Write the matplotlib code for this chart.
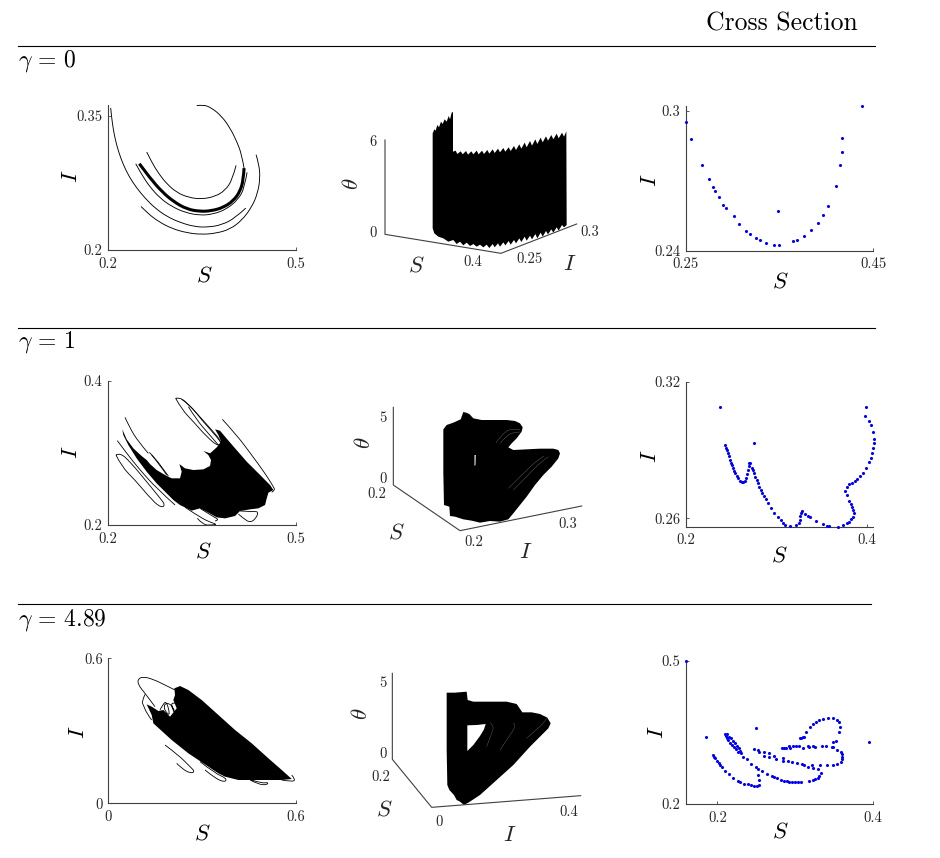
import matplotlib
matplotlib.use('Agg')
import matplotlib.pyplot as plt
from matplotlib.path import Path
from matplotlib.patches import PathPatch

plt.rcParams['font.family'] = ['cmr10', 'DejaVu Serif']
plt.rcParams['mathtext.fontset'] = 'cm'
plt.rcParams['axes.formatter.use_mathtext'] = True
plt.rcParams['axes.unicode_minus'] = False

W, H = 940, 858
AXIS_COLOR = '#404040'
TICK_SIZE = 10.5
LABEL_SIZE = 16.5

# ---- gamma = 0, S-I phase portrait
r1_big_s = [.2038, .2054, .2081, .2118, .2171, .2240, .2331, .2454, .2587, .2747, .2934, .3147, .3387, .3600, .3813, .4026, .4197]
r1_big_i = [.3587, .3475, .3344, .3214, .3083, .2953, .2822, .2692, .2580, .2468, .2375, .2307, .2259, .2255, .2281, .2356, .2468]
r1_low_s = [.2523, .2640, .2800, .3013, .3253, .3493, .3733, .3946, .4133, .4293, .4388, .4426, .4410, .4362]
r1_low_i = [.2486, .2404, .2319, .2240, .2192, .2173, .2188, .2233, .2330, .2479, .2636, .2803, .2953, .3065]
r1_top_s = [.2614, .2694, .2800, .2933, .3093, .3280, .3493, .3706, .3866, .3984, .4042]
r1_top_i = [.3094, .2982, .2859, .2740, .2643, .2587, .2568, .2598, .2665, .2785, .2945]
r1_hook_s = [.3413, .3520, .3653, .3813, .3946, .4053, .4133, .4170]
r1_hook_i = [.3613, .3624, .3587, .3494, .3363, .3214, .3065, .2915]
r1_thick_s = [.4170, .4159, .4106, .3999, .3839, .3653, .3466, .3253, .3040, .2854, .2667, .2496]
r1_thick_i = [.2915, .2785, .2654, .2550, .2475, .2438, .2430, .2457, .2542, .2654, .2803, .2964]
r1_thin_s = [.2438, .2534, .2667, .2827, .3013, .3227, .3466, .3680, .3893, .4079, .4175, .4218]
r1_thin_i = [.2964, .2841, .2703, .2580, .2486, .2419, .2386, .2401, .2457, .2568, .2692, .2867]
r1_curves = [(r1_big_s, r1_big_i), (r1_low_s, r1_low_i), (r1_top_s, r1_top_i),
             (r1_hook_s, r1_hook_i), (r1_thin_s, r1_thin_i)]

# ---- gamma = 0, cross section
r1_sec_s = [.2500, .2553, .2674, .2749, .2788, .2816, .2855, .2898, .2926, .3011, .3068, .3139, .3185, .3249, .3292,
            .3359, .3441, .3490, .3487, .3640, .3686, .3764, .3838, .3906, .3966, .4019, .4101, .4147, .4161, .4169, .4378]
r1_sec_i = [.2952, .2880, .2765, .2705, .2672, .2657, .2629, .2597, .2582, .2549, .2514, .2486, .2472, .2453, .2444,
            .2431, .2426, .2426, .2569, .2440, .2447, .2464, .2487, .2517, .2552, .2590, .2679, .2766, .2823, .2882, .3021]

# ---- gamma = 1, S-I phase portrait
r2_blob_s = [.2224, .2294, .2400, .2533, .2613, .2667, .2773, .2906, .3013, .3146, .3173, .3136, .3226, .3360, .3519, .3626,
             .3642, .3599, .3519, .3626, .3733, .3802, .3759, .3706, .3786, .3866, .4026, .4212, .4426, .4585, .4639, .4559,
             .4532, .4505, .4399, .4266, .4106, .4026, .3866, .3733, .3599, .3466, .3333, .3146, .3040, .2933, .2773, .2613,
             .2453, .2320, .2240]
r2_blob_i = [.3326, .3187, .3063, .2956, .2901, .2845, .2762, .2693, .2647, .2647, .2739, .2845, .2785, .2762, .2771, .2818,
             .2901, .2970, .3026, .2993, .3076, .3155, .3247, .3326, .3307, .3224, .3063, .2878, .2693, .2554, .2485, .2448,
             .2369, .2277, .2231, .2217, .2194, .2125, .2092, .2106, .2171, .2231, .2199, .2277, .2346, .2439, .2577, .2739,
             .2924, .3109, .3247]
r2_long_s = [.3823, .4052, .4292, .4505, .4639, .4665, .4612]
r2_long_i = [.3464, .3247, .2970, .2716, .2531, .2485, .2453]
r2_left_s = [.2267, .2347, .2480, .2640]
r2_left_i = [.3492, .3340, .3155, .2993]
r2_ell_s = [.3077, .3130, .3242, .3439, .3653, .3813, .3759, .3573, .3360, .3173, .3077]
r2_ell_i = [.3755, .3769, .3709, .3524, .3317, .3155, .3086, .3224, .3432, .3603, .3755]
r2_in1_s = [.3173, .3306, .3493, .3733, .3813]
r2_in1_i = [.3742, .3663, .3455, .3224, .3132]
r2_in2_s = [.3280, .3413, .3599, .3759]
r2_in2_i = [.3640, .3455, .3270, .3109]
r2_lell_s = [.2123, .2187, .2347, .2613, .2853, .2906, .2853, .2720, .2427, .2214, .2123]
r2_lell_i = [.2970, .3002, .2878, .2600, .2346, .2277, .2240, .2323, .2624, .2808, .2970]
r2_an_s = [.2144, .2294, .2507, .2773, .3066]
r2_an_i = [.3169, .2993, .2762, .2508, .2277]
r2_ex1_s = [.2656, .2773, .2906, .2960]
r2_ex1_i = [.3007, .2901, .2739, .2679]
r2_ex2_s = [.2693, .2827, .2933]
r2_ex2_i = [.2970, .2831, .2693]
r2_lp1_s = [.3226, .3413, .3599, .3743, .3653, .3519, .3423]
r2_lp1_i = [.2245, .2139, .2046, .2009, .2000, .2000, .2092]
r2_lp2_s = [.3466, .3680, .3775, .3706]
r2_lp2_i = [.2231, .2115, .2069, .2055]
r2_lp3_s = [.4106, .4319, .4399, .4362, .4266, .4159, .4079]
r2_lp3_i = [.2194, .2185, .2185, .2092, .2032, .2092, .2152]
r2_curves = [(r2_long_s, r2_long_i), (r2_left_s, r2_left_i), (r2_ell_s, r2_ell_i), (r2_in1_s, r2_in1_i),
             (r2_in2_s, r2_in2_i), (r2_lell_s, r2_lell_i), (r2_an_s, r2_an_i), (r2_ex1_s, r2_ex1_i),
             (r2_ex2_s, r2_ex2_i), (r2_lp1_s, r2_lp1_i), (r2_lp2_s, r2_lp2_i), (r2_lp3_s, r2_lp3_i)]

# ---- gamma = 1, cross section
r2_sec_s = [.2378, .2756, .2437, .2444, .2455, .2466, .2477, .2488, .2499, .2510, .2521, .2532, .2547, .2562, .2580, .2598,
            .2617, .2635, .2653, .2668, .2679, .2686, .2694, .2701, .2708, .2730, .2741, .2752, .2767, .2782, .2796, .2811,
            .2826, .2844, .2862, .2881, .2903, .2940, .2973, .3017, .3046, .3068, .3094, .3152, .3218, .3248, .3259, .3262,
            .3270, .3285, .3310, .3343, .3373, .3431, .3508, .3552, .3574, .3674, .3736, .3773, .3802, .3824, .3842, .3850,
            .3846, .3835, .3817, .3802, .3773, .3754, .3773, .3802, .3831, .3861, .3886, .3916, .3949, .3985, .4015, .4037,
            .4055, .4066, .4074, .4074, .4066, .4044, .4015, .3971, .3982]
r2_sec_i = [.3089, .2929, .2920, .2910, .2898, .2885, .2872, .2858, .2845, .2832, .2820, .2809, .2797, .2787, .2775, .2765,
            .2759, .2758, .2764, .2775, .2793, .2812, .2829, .2842, .2844, .2823, .2812, .2799, .2783, .2768, .2753, .2739,
            .2724, .2710, .2696, .2683, .2669, .2644, .2625, .2607, .2593, .2581, .2569, .2568, .2569, .2578, .2593, .2610,
            .2625, .2631, .2620, .2610, .2604, .2588, .2574, .2566, .2564, .2562, .2569, .2578, .2584, .2596, .2607, .2622,
            .2637, .2651, .2663, .2674, .2702, .2721, .2739, .2749, .2756, .2765, .2774, .2784, .2800, .2822, .2848, .2867,
            .2885, .2907, .2929, .2947, .2977, .3010, .3029, .3051, .3089]

# ---- gamma = 4.89, S-I phase portrait
r3_blob_s = [.2112, .2293, .2559, .2986, .3519, .4052, .4585, .5118, .5544, .5864, .5544, .5118, .4585, .4158, .3732, .3519,
             .3039, .2559, .2026, .1440, .1387, .1227, .1387, .1600, .1760, .1973, .2186, .2080, .2133]
r3_blob_i = [.4757, .4853, .4688, .4274, .3654, .3033, .2481, .1861, .1378, .1006, .0964, .0964, .0964, .0964, .1102, .1240,
             .1654, .2068, .2619, .3309, .3654, .4095, .3998, .3819, .3860, .3585, .3929, .4274, .4481]
r3_ell_s = [.2133, .1813, .1440, .1120, .0939, .0960, .1174, .1334, .1493]
r3_ell_i = [.4688, .4895, .5129, .5239, .5143, .4895, .4550, .4274, .3998]
r3_lobe_s = [.1174, .1067, .1120, .1227, .1387]
r3_lobe_i = [.4509, .4205, .4067, .3722, .3447]
r3_zig_s = [.1653, .1760, .1867, .1973, .1867, .1760, .1867, .2080, .2133, .1973, .2133]
r3_zig_i = [.3860, .4136, .4205, .3653, .3722, .3998, .4178, .3998, .3653, .4205, .4136]
r3_low1_s = [.1813, .2240, .2613, .2773, .2613, .2346, .2186]
r3_low1_i = [.2412, .1999, .1516, .1309, .1240, .1447, .1654]
r3_low2_s = [.2933, .3412, .3785, .3732, .3412, .3092]
r3_low2_i = [.1723, .1240, .1033, .0868, .1033, .1378]
r3_low3_s = [.4585, .4905, .5118, .5065, .4798, .4532]
r3_low3_i = [.0964, .0826, .0868, .0758, .0785, .0964]
r3_low4_s = [.5544, .5864, .5992, .5864]
r3_low4_i = [.0964, .0895, .0964, .1171]
r3_curves = [(r3_ell_s, r3_ell_i), (r3_lobe_s, r3_lobe_i), (r3_zig_s, r3_zig_i), (r3_low1_s, r3_low1_i),
             (r3_low2_s, r3_low2_i), (r3_low3_s, r3_low3_i), (r3_low4_s, r3_low4_i)]

# ---- gamma = 4.89, cross section
r3_sec_s = [.1594, .1855, .2491, .3951, .3059, .3068, .3093, .3110, .3132, .3187, .3221, .3264, .3302, .3349, .3422, .3486,
            .3529, .3563, .3567, .3563, .3520, .3477, .3486, .2824, .2854, .2880, .2918, .2931, .2965, .3003, .3042, .3102,
            .3157, .3174, .3230, .3255, .3337, .3388, .3465, .3537, .3580, .3601, .3601, .3597, .3580, .3537, .3486, .3405,
            .3311, .3285, .3324, .3307, .3290, .3255, .3221, .3170, .3068, .3029, .2995, .2961, .2922, .2888, .2850, .2811,
            .2764, .2726, .2696, .2641, .2576, .2102, .2120, .2154, .2175, .2201, .2222, .2248, .2273, .2290, .2107, .2120,
            .2141, .2162, .2184, .2209, .2235, .2269, .2307, .2325, .2384, .2427, .2491, .2521, .2517, .2538, .2538, .2512,
            .2470, .2431, .2389, .2342, .2290, .2269, .2205, .2149, .2098, .2056, .2038, .2017, .1996, .1974, .1957, .1949,
            .2470, .2517, .2534, .2598, .2598, .2662, .2658, .2730, .2752, .2845, .2845, .2910, .2952, .3016, .3080, .3106,
            .3166, .3208, .3230]
r3_sec_i = [.5001, .3410, .3591, .3305, .3382, .3389, .3396, .3410, .3515, .3605, .3675, .3724, .3759, .3787, .3801, .3794,
            .3759, .3710, .3605, .3508, .3319, .3298, .3194, .3166, .3166, .3166, .3208, .3166, .3215, .3215, .3222, .3166,
            .3215, .3187, .3208, .3194, .3208, .3222, .3187, .3131, .3082, .3054, .2984, .2942, .2879, .2838, .2824, .2817,
            .2810, .2726, .2656, .2586, .2551, .2523, .2496, .2475, .2468, .2468, .2468, .2468, .2468, .2475, .2489, .2510,
            .2544, .2572, .2586, .2621, .2684, .3459, .3466, .3410, .3375, .3319, .3270, .3215, .3166, .3117, .3424, .3375,
            .3340, .3284, .3228, .3187, .3145, .3096, .3061, .2991, .2935, .2845, .2775, .2726, .2607, .2503, .2398, .2384,
            .2384, .2391, .2412, .2426, .2461, .2482, .2544, .2621, .2691, .2775, .2817, .2866, .2907, .2956, .2991, .3019,
            .3145, .3124, .3082, .3082, .3005, .3061, .2991, .2998, .2935, .2956, .2900, .2907, .2879, .2859, .2831, .2810,
            .2782, .2817, .2754]

# ---- 3D panels, outlines as seen in the projected view
v1_wall_x = [278, 283, 287, 292, 297, 303, 308, 314, 320, 326, 330, 335, 339, 339, 347, 352, 362, 368, 378, 384, 394, 400,
             410, 416, 426, 432, 442, 448, 458, 464, 474, 480, 490, 496, 506, 512, 522, 528, 538, 544, 554, 560, 570, 576,
             586, 592, 602, 608, 618, 624, 634, 640, 650, 656, 666, 672, 679, 680,
             672, 666, 656, 650, 640, 634, 624, 618, 608, 602, 592, 586, 576, 570, 560, 554, 544, 538, 528, 522, 512, 506,
             496, 490, 480, 474, 464, 458, 448, 440, 430, 420, 410, 400, 390, 380, 370, 360, 350, 340, 325, 310, 295, 283, 278]
v1_wall_y = [130, 118, 122, 105, 112, 95, 102, 88, 95, 78, 88, 68, 66, 185, 182, 192, 184, 193, 183, 194, 184, 193,
             182, 193, 182, 192, 180, 191, 178, 189, 176, 187, 174, 185, 172, 183, 168, 180, 163, 176, 158, 172, 153, 167,
             148, 162, 143, 157, 139, 152, 135, 148, 131, 145, 128, 140, 124, 405,
             412, 405, 422, 412, 428, 418, 433, 423, 440, 428, 445, 432, 448, 437, 452, 440, 456, 445, 460, 450, 464, 453,
             466, 457, 470, 460, 472, 462, 474, 464, 472, 464, 470, 462, 468, 458, 466, 455, 462, 450, 455, 445, 440, 430, 415]
v2_body_x = [310, 320, 340, 362, 370, 378, 388, 400, 425, 460, 500, 525, 540, 548, 545, 530, 515, 505, 520, 560, 600, 640,
             655, 660, 655, 635, 610, 585, 560, 540, 520, 505, 480, 450, 420, 395, 370, 345, 330, 328, 312, 310]
v2_body_y = [118, 105, 98, 88, 66, 68, 72, 85, 90, 90, 90, 93, 100, 112, 125, 145, 160, 172, 180, 178, 176, 176,
             180, 190, 205, 230, 255, 285, 320, 345, 370, 388, 395, 393, 398, 392, 388, 380, 378, 350, 345, 250]
v2_stria1_x = [468, 490, 515, 540]
v2_stria1_y = [158, 128, 116, 118]
v2_stria2_x = [480, 500, 525, 545]
v2_stria2_y = [160, 136, 126, 126]
v2_stria3_x = [505, 555, 590, 612]
v2_stria3_y = [295, 245, 212, 198]
v2_stria4_x = [520, 570, 600, 625]
v2_stria4_y = [300, 250, 218, 200]
v2_speck_x = [403, 408, 407, 403]
v2_speck_y = [195, 195, 225, 228]
v3_body_x = [320, 345, 380, 383, 400, 450, 500, 530, 547, 575, 600, 622, 632, 625, 605, 570, 520, 470, 420, 385, 372, 360,
             350, 342, 328, 322, 320, 320]
v3_body_y = [128, 128, 125, 150, 155, 155, 155, 162, 187, 187, 192, 203, 220, 235, 255, 290, 345, 390, 435, 458, 465, 455,
             450, 435, 420, 405, 300, 200]
v3_hole_x = [382, 410, 437, 432, 420, 400, 382]
v3_hole_y = [226, 225, 222, 238, 258, 285, 303]
v3_stria1_x = [440, 455, 462, 450]
v3_stria1_y = [290, 250, 228, 218]
v3_stria2_x = [480, 510, 528, 520]
v3_stria2_y = [300, 255, 228, 218]
v3_stria3_x = [560, 590, 612, 620]
v3_stria3_y = [265, 238, 218, 205]

fig = plt.figure(figsize=(W / 100, H / 100), dpi=100, facecolor='white')

# page layer in pixel units, for the rules and row titles
page = fig.add_axes([0, 0, 1, 1])
page.set_xlim(0, W)
page.set_ylim(H, 0)
page.axis('off')
page.plot([18, 875], [46, 46], color='black', lw=0.8)
page.plot([18, 875], [328, 328], color='black', lw=0.8)
page.plot([18, 871], [604, 604], color='black', lw=0.8)
page.text(782, 24, 'Cross Section', fontsize=18.5, ha='center', va='center')
page.text(18, 61, r'$\gamma\,=\,0$', fontsize=17, ha='left', va='center')
page.text(18, 342, r'$\gamma\,=\,1$', fontsize=17, ha='left', va='center')
page.text(18, 620, r'$\gamma\,=\,4.89$', fontsize=17, ha='left', va='center')


def flat_axes(left, top, right, bottom, xlim, ylim, xticks, yticks, xlabels, ylabels):
    ax = fig.add_axes([left / W, 1 - bottom / H, (right - left) / W, (bottom - top) / H])
    ax.patch.set_alpha(0)
    ax.set_xlim(*xlim)
    ax.set_ylim(*ylim)
    ax.spines['top'].set_visible(False)
    ax.spines['right'].set_visible(False)
    for side in ('left', 'bottom'):
        ax.spines[side].set_color(AXIS_COLOR)
        ax.spines[side].set_linewidth(0.8)
    ax.set_xticks(xticks)
    ax.set_xticklabels(xlabels)
    ax.set_yticks(yticks)
    ax.set_yticklabels(ylabels)
    ax.tick_params(axis='x', direction='in', length=2, width=0.6, color=AXIS_COLOR,
                   labelsize=TICK_SIZE, labelcolor='#262626', pad=5)
    ax.tick_params(axis='y', direction='in', length=2, width=0.6, color=AXIS_COLOR,
                   labelsize=TICK_SIZE, labelcolor='#262626', pad=4)
    return ax


def view_axes(x0, y0, w, h):
    # projected view, 3 units to a pixel
    ax = fig.add_axes([x0 / W, 1 - (y0 + h) / H, w / W, h / H])
    ax.patch.set_alpha(0)
    ax.set_xlim(0, w * 3)
    ax.set_ylim(h * 3, 0)
    ax.axis('off')
    return ax


def draw_frame(ax, corner_x, corner_y):
    ax.plot(corner_x, corner_y, color=AXIS_COLOR, lw=0.8, clip_on=False)


def draw_curve(ax, xs, ys, lw=0.65, color='black'):
    # rounded stroke through the read points, the vertices act as bezier controls
    verts = [(xs[0], ys[0])]
    codes = [Path.MOVETO]
    for k in range(1, len(xs) - 1):
        if k < len(xs) - 2:
            end = ((xs[k] + xs[k + 1]) / 2, (ys[k] + ys[k + 1]) / 2)
        else:
            end = (xs[k + 1], ys[k + 1])
        verts += [(xs[k], ys[k]), end]
        codes += [Path.CURVE3, Path.CURVE3]
    ax.add_patch(PathPatch(Path(verts, codes), fill=False, edgecolor=color, lw=lw, clip_on=False))


def axis_names(xname, yname):
    page.text(xname[0], xname[1], r'$S$', fontsize=LABEL_SIZE, ha='center', va='center')
    page.text(yname[0], yname[1], r'$I$', fontsize=LABEL_SIZE, ha='center', va='center', rotation=90)


def view_text(ax, x, y, s, size=TICK_SIZE, rotation=0):
    ax.text(x, y, s, fontsize=size, ha='center', va='center', rotation=rotation, color='#262626')


# row 1
ax = flat_axes(108.3, 105, 296, 250, (0.2, 0.5), (0.2, 0.362), [0.2, 0.5], [0.2, 0.35],
               ['0.2', '0.5'], ['0.2', '0.35'])
for s_vals, i_vals in r1_curves:
    draw_curve(ax, s_vals, i_vals)
draw_curve(ax, r1_thick_s, r1_thick_i, lw=2.2)
axis_names((204, 276), (71, 176))

ax = view_axes(340, 90, 270, 200)
draw_frame(ax, [135, 135, 483, 710], [150, 433, 490, 402])
ax.fill(v1_wall_x, v1_wall_y, color='black', lw=0)
view_text(ax, 100, 155, '6')
view_text(ax, 100, 430, '0')
view_text(ax, 397, 517, '0.4')
view_text(ax, 567, 507, '0.25')
view_text(ax, 750, 427, '0.3')
view_text(ax, 35, 280, r'$\theta$', LABEL_SIZE, 90)
view_text(ax, 230, 528, r'$S$', LABEL_SIZE)
view_text(ax, 690, 522, r'$I$', LABEL_SIZE)

ax = flat_axes(685.7, 105.7, 873.3, 250.7, (0.25, 0.45), (0.24, 0.3021), [0.25, 0.45], [0.24, 0.3],
               ['0.25', '0.45'], ['0.24', '0.3'])
ax.scatter(r1_sec_s, r1_sec_i, s=5, color='#0000ff', linewidths=0, clip_on=False, zorder=3)
axis_names((780, 281), (650, 180))

# row 2
ax = flat_axes(108.3, 380.7, 296, 525, (0.2, 0.5), (0.2, 0.4), [0.2, 0.5], [0.2, 0.4],
               ['0.2', '0.5'], ['0.2', '0.4'])
ax.fill(r2_blob_s, r2_blob_i, color='black', lw=0)
for s_vals, i_vals in r2_curves:
    draw_curve(ax, s_vals, i_vals, lw=0.6)
axis_names((203, 552), (71, 452))

ax = view_axes(340, 390, 270, 180)
draw_frame(ax, [160, 160, 360, 725], [52, 285, 422, 348])
ax.fill(v2_body_x, v2_body_y, color='black', lw=0)
for sx, sy in [(v2_stria1_x, v2_stria1_y), (v2_stria2_x, v2_stria2_y),
               (v2_stria3_x, v2_stria3_y), (v2_stria4_x, v2_stria4_y)]:
    draw_curve(ax, sx, sy, lw=0.3, color='#6a6a6a')
ax.fill(v2_speck_x, v2_speck_y, color='#b8b8b8', lw=0)
view_text(ax, 130, 85, '5')
view_text(ax, 128, 268, '0')
view_text(ax, 110, 312, '0.2')
view_text(ax, 400, 455, '0.2')
view_text(ax, 682, 403, '0.3')
view_text(ax, 72, 158, r'$\theta$', LABEL_SIZE, 90)
view_text(ax, 168, 428, r'$S$', LABEL_SIZE)
view_text(ax, 558, 488, r'$I$', LABEL_SIZE)

ax = flat_axes(685.7, 381.7, 873.3, 526.7, (0.2, 0.4066), (0.2563, 0.32), [0.2, 0.4], [0.26, 0.32],
               ['0.2', '0.4'], ['0.26', '0.32'])
ax.scatter(r2_sec_s, r2_sec_i, s=5, color='#0000ff', linewidths=0, clip_on=False, zorder=3)
axis_names((779, 555), (650, 456))

# row 3
ax = flat_axes(108.3, 658.3, 296, 803.3, (0, 0.6), (0, 0.6), [0, 0.6], [0, 0.6],
               ['0', '0.6'], ['0', '0.6'])
ax.fill(r3_blob_s, r3_blob_i, color='black', lw=0)
for s_vals, i_vals in r3_curves:
    draw_curve(ax, s_vals, i_vals, lw=0.6)
axis_names((202, 833), (78, 732))

ax = view_axes(340, 650, 270, 190)
draw_frame(ax, [157, 157, 275, 722], [70, 328, 472, 437])
ax.fill(v3_body_x, v3_body_y, color='black', lw=0)
ax.fill(v3_hole_x, v3_hole_y, color='white', lw=0)
for sx, sy in [(v3_stria1_x, v3_stria1_y), (v3_stria2_x, v3_stria2_y), (v3_stria3_x, v3_stria3_y)]:
    draw_curve(ax, sx, sy, lw=0.3, color='#6a6a6a')
view_text(ax, 128, 100, '5')
view_text(ax, 128, 313, '0')
view_text(ax, 122, 382, '0.2')
view_text(ax, 296, 515, '0')
view_text(ax, 686, 487, '0.4')
view_text(ax, 62, 192, r'$\theta$', LABEL_SIZE, 90)
view_text(ax, 133, 478, r'$S$', LABEL_SIZE)
view_text(ax, 510, 555, r'$I$', LABEL_SIZE)

ax = flat_axes(685.7, 660.7, 873.3, 804, (0.1594, 0.4), (0.2, 0.5), [0.2, 0.4], [0.2, 0.5],
               ['0.2', '0.4'], ['0.2', '0.5'])
ax.scatter(r3_sec_s, r3_sec_i, s=5, color='#0000ff', linewidths=0, clip_on=False, zorder=3)
axis_names((780, 832), (657, 732))

fig.savefig('out.png', dpi=100)
